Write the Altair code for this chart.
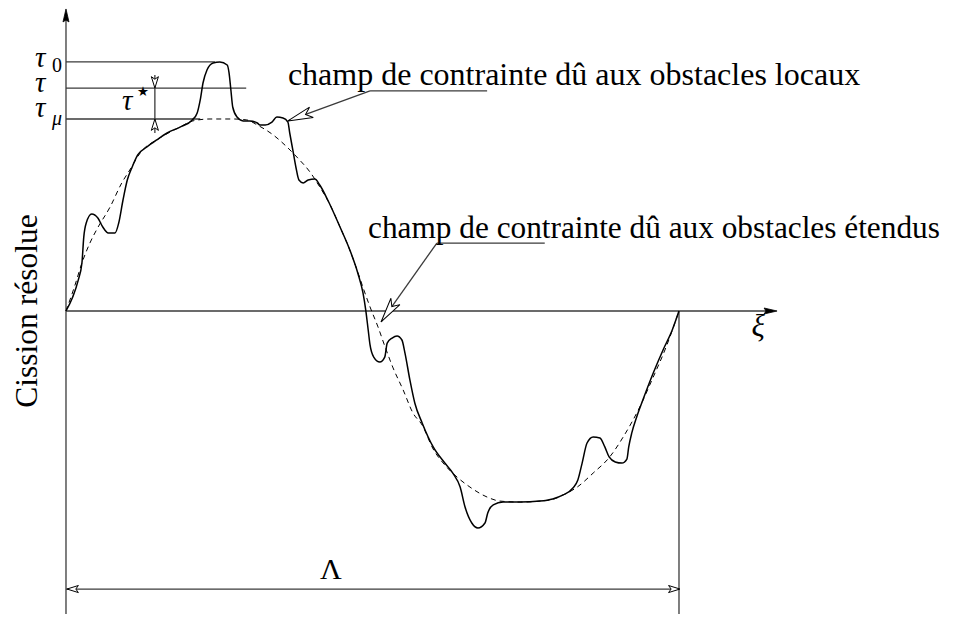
import altair as alt
import pandas as pd

# ---------------- data (xi in units of Lambda, tau in units of tau_mu) ----------------
xi_solid = [0.000, 0.011, 0.020, 0.026, 0.029, 0.033, 0.042, 0.052, 0.060, 0.069,
            0.080, 0.086, 0.093, 0.100, 0.108, 0.117, 0.132, 0.148, 0.165, 0.186,
            0.206, 0.214, 0.219, 0.2235, 0.230, 0.240, 0.251, 0.263, 0.266, 0.269,
            0.272, 0.279, 0.289, 0.300, 0.312, 0.3165, 0.325, 0.336, 0.344, 0.354,
            0.362, 0.365, 0.370, 0.375, 0.380, 0.387, 0.395, 0.406, 0.414, 0.427,
            0.447, 0.463, 0.476, 0.4845, 0.489, 0.493, 0.496, 0.502, 0.512, 0.520,
            0.524, 0.532, 0.540, 0.548, 0.553, 0.561, 0.569, 0.581, 0.599, 0.618,
            0.631, 0.643, 0.651, 0.662, 0.672, 0.6835, 0.688, 0.697, 0.713, 0.741,
            0.773, 0.794, 0.811, 0.827, 0.835, 0.842, 0.850, 0.860, 0.871, 0.879,
            0.886, 0.896, 0.907, 0.915, 0.918, 0.923, 0.931, 0.941, 0.958, 0.974,
            0.989, 1.000]
tau_solid = [0.000, 0.073, 0.161, 0.250, 0.385, 0.458, 0.505, 0.484, 0.4375, 0.406,
             0.406, 0.458, 0.578, 0.682, 0.750, 0.8125, 0.854, 0.891, 0.927, 0.958,
             0.995, 1.031, 1.099, 1.1875, 1.255, 1.292, 1.297, 1.281, 1.240, 1.151,
             1.0625, 1.010, 0.990, 0.990, 0.979, 0.969, 0.969, 0.984, 1.010, 1.005,
             0.984, 0.927, 0.839, 0.750, 0.682, 0.667, 0.682, 0.6875, 0.656, 0.578,
             0.4375, 0.318, 0.198, 0.094, 0.005, -0.099, -0.177, -0.240, -0.266, -0.240,
             -0.167, -0.141, -0.130, -0.151, -0.219, -0.359, -0.479, -0.583, -0.708, -0.792,
             -0.844, -0.917, -1.021, -1.104, -1.130, -1.104, -1.052, -1.010, -0.995, -0.995,
             -0.990, -0.979, -0.958, -0.922, -0.880, -0.792, -0.6875, -0.656, -0.661, -0.708,
             -0.760, -0.786, -0.792, -0.771, -0.708, -0.635, -0.552, -0.464, -0.323, -0.203,
             -0.099, 0.000]

xi_dashed = [0.000, 0.0147, 0.026, 0.039, 0.0506, 0.072, 0.091, 0.104, 0.121, 0.153,
             0.186, 0.207, 0.235, 0.272, 0.295, 0.312, 0.338, 0.3605, 0.378, 0.398,
             0.414, 0.431, 0.447, 0.463, 0.476, 0.486, 0.496, 0.509, 0.520, 0.533,
             0.550, 0.566, 0.581, 0.599, 0.618, 0.638, 0.659, 0.687, 0.708, 0.741,
             0.790, 0.811, 0.834, 0.860, 0.887, 0.909, 0.936, 0.958, 0.979, 1.000]
tau_dashed = [0.000, 0.135, 0.250, 0.354, 0.427, 0.542, 0.667, 0.734, 0.823, 0.901,
              0.958, 0.990, 1.000, 1.000, 0.995, 0.969, 0.917, 0.854, 0.797, 0.724,
              0.646, 0.552, 0.4375, 0.318, 0.203, 0.109, 0.021, -0.083, -0.182, -0.292,
              -0.411, -0.531, -0.594, -0.719, -0.802, -0.865, -0.917, -0.969, -0.990, -0.995,
              -0.984, -0.958, -0.917, -0.844, -0.760, -0.656, -0.500, -0.344, -0.1875, 0.000]

# characteristic stress levels
TAU_0 = 1.297
TAU_APPLIED = 1.161
TAU_MU = 1.0
LAMBDA = 1.0

# ---------------- scales ----------------
X_DOMAIN = [-0.0946, 1.4421]
Y_DOMAIN = [-1.578, 1.578]
xs = alt.Scale(domain=X_DOMAIN, nice=False, zero=False)
ys = alt.Scale(domain=Y_DOMAIN, nice=False, zero=False)


def X(f="x"):
    return alt.X(f"{f}:Q", scale=xs, axis=None)


def Y(f="y"):
    return alt.Y(f"{f}:Q", scale=ys, axis=None)


LINE = "#3a3a3a"
SERIF = "Liberation Serif"

layers = []

# ---------------- straight segments ----------------
XI_STAR = 0.145
LAM_Y = -1.448
Y_TOP = 1.573
XI_TIP = 1.160
seg = pd.DataFrame({
    "x":  [0.0, 0.0, LAMBDA, 0.0, 0.0, 0.0, 0.0, XI_STAR, 0.496, 0.496, 0.605, 0.605],
    "y":  [Y_DOMAIN[0], 0.0, 0.0, LAM_Y, TAU_0, TAU_APPLIED, TAU_MU, 1.229, 1.146, 1.146, 0.354, 0.354],
    "x2": [0.0, XI_TIP - 0.01, LAMBDA, LAMBDA, 0.243, 0.294, 0.219, XI_STAR, 0.362, 0.687, 0.514, 0.781],
    "y2": [Y_TOP - 0.03, 0.0, Y_DOMAIN[0], LAM_Y, TAU_0, TAU_APPLIED, TAU_MU, 0.927, 0.990, 1.146, -0.057, 0.354],
})
layers.append(
    alt.Chart(seg).mark_rule(color=LINE, strokeWidth=1.3).encode(
        x=X(), y=Y(), x2=alt.X2("x2:Q"), y2=alt.Y2("y2:Q"))
)

# ---------------- curves ----------------
df_dashed = pd.DataFrame({"x": xi_dashed, "y": tau_dashed, "i": range(len(xi_dashed))})
df_solid = pd.DataFrame({"x": xi_solid, "y": tau_solid, "i": range(len(xi_solid))})
layers.append(
    alt.Chart(df_dashed).mark_line(color="black", strokeWidth=1.0, strokeDash=[5, 4],
                                   interpolate="monotone").encode(
        x=X(), y=Y(), order=alt.Order("i:Q"))
)
layers.append(
    alt.Chart(df_solid).mark_line(color="black", strokeWidth=1.5, interpolate="monotone").encode(
        x=X(), y=Y(), order=alt.Order("i:Q"))
)

# ---------------- arrow heads ----------------
FILLED = "M0,0 L0.46,2 L0,1.7 L-0.46,2 Z"
OPEN_SMALL = "M0,0 L0.62,2 L0,1.55 L-0.62,2 Z"
OPEN_LONG = "M0,0 L0.44,2 L0,1.5 L-0.44,2 Z"

heads_filled = pd.DataFrame({"x": [0.0, XI_TIP], "y": [Y_TOP, 0.0], "a": [0, 90]})
heads_small = pd.DataFrame({"x": [XI_STAR, XI_STAR, 0.0016, LAMBDA + 0.0016],
                            "y": [TAU_APPLIED, TAU_MU, LAM_Y, LAM_Y],
                            "a": [180, 0, 270, 90]})
heads_long = pd.DataFrame({"x": [0.362, 0.514], "y": [0.990, -0.057], "a": [250, 215]})

layers.append(
    alt.Chart(heads_filled).mark_point(shape=FILLED, size=169, filled=True, fill="black",
                                       stroke="black", strokeWidth=0.8, opacity=1).encode(
        x=X(), y=Y(), angle=alt.Angle("a:Q", scale=None))
)
layers.append(
    alt.Chart(heads_small).mark_point(shape=OPEN_SMALL, size=130, filled=True, fill="white",
                                      stroke="black", strokeWidth=1.0, opacity=1).encode(
        x=X(), y=Y(), angle=alt.Angle("a:Q", scale=None))
)
layers.append(
    alt.Chart(heads_long).mark_point(shape=OPEN_LONG, size=625, filled=True, fill="white",
                                     stroke="black", strokeWidth=1.0, opacity=1).encode(
        x=X(), y=Y(), angle=alt.Angle("a:Q", scale=None))
)


# ---------------- text ----------------
def label(x, y, text, **kw):
    df = pd.DataFrame({"x": [x], "y": [y], "t": [text]})
    return alt.Chart(df).mark_text(**kw).encode(x=X(), y=Y(), text="t:N")


layers += [
    label(0.362, 1.177, "champ de contrainte dû aux obstacles locaux",
          font=SERIF, fontSize=32, align="left", baseline="alphabetic", color="black"),
    label(0.4927, 0.380, "champ de contrainte dû aux obstacles étendus",
          font=SERIF, fontSize=31.3, align="left", baseline="alphabetic", color="black"),
    label(-0.0480, 0.0, "Cission résolue",
          font=SERIF, fontSize=31.5, align="center", baseline="alphabetic", angle=270, color="black"),
    label(1.129, -0.083, "ξ", font=SERIF, fontSize=31, fontStyle="italic",
          align="center", baseline="middle", color="black"),
    label(0.432, -1.396, "Λ", font=SERIF, fontSize=30, align="center",
          baseline="alphabetic", color="black"),
    # tau labels on the stress axis
    label(-0.0506, 1.271, "τ", font=SERIF, fontSize=29, fontStyle="italic",
          align="left", baseline="alphabetic", color="black"),
    label(-0.0230, 1.245, "0", font=SERIF, fontSize=20,
          align="left", baseline="alphabetic", color="black"),
    label(-0.0506, 1.141, "τ", font=SERIF, fontSize=29, fontStyle="italic",
          align="left", baseline="alphabetic", color="black"),
    label(-0.0506, 1.010, "τ", font=SERIF, fontSize=29, fontStyle="italic",
          align="left", baseline="alphabetic", color="black"),
    label(-0.0230, 0.969, "μ", font=SERIF, fontSize=20, fontStyle="italic",
          align="left", baseline="alphabetic", color="black"),
    # tau star
    label(0.0914, 1.047, "τ", font=SERIF, fontSize=29, fontStyle="italic",
          align="left", baseline="alphabetic", color="black"),
    label(0.1256, 1.138, "⋆", font="DejaVu Sans", fontSize=27,
          align="center", baseline="middle", color="black"),
]

chart = alt.layer(*layers).properties(
    width=942, height=606, padding=0,
    autosize=alt.AutoSizeParams(type="none"),
    background="white",
).configure_view(strokeWidth=0)

chart.save("out.html", embed_options={"renderer": "svg", "actions": False})
